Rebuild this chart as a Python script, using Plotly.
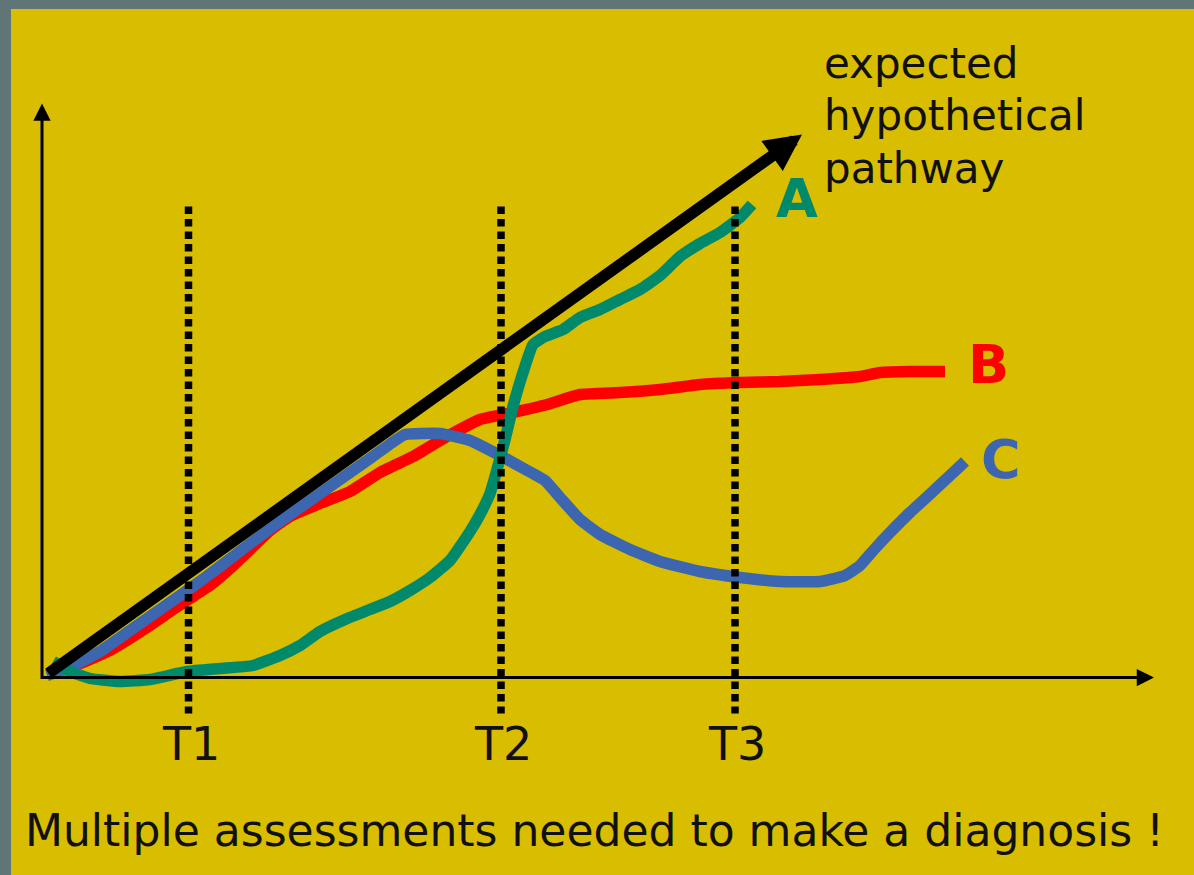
import plotly.graph_objects as go

# ---------------- data (x: time units, y: score units; origin = axes crossing) ----------------
time_labels = ["T1", "T2", "T3"]
time_x = [1.465, 4.59, 6.93]
time_line_top = 4.71
time_line_bottom = -0.36

# expected hypothetical pathway (straight arrow)
expected_x = [0.05, 7.60]
expected_y = [0.03, 5.43]

# patient A (green)
a_x = [0.11, 0.28, 0.48, 0.78, 1.08, 1.45, 1.78, 2.11, 2.38, 2.58, 2.78, 3.03, 3.28, 3.48, 3.68,
       3.88, 4.08, 4.18, 4.28, 4.38, 4.48, 4.55, 4.63, 4.71, 4.81, 4.91, 5.03, 5.21, 5.38, 5.58,
       5.78, 5.98, 6.18, 6.38, 6.58, 6.78, 6.98, 7.10]
a_y = [0.16, 0.06, -0.01, -0.04, -0.02, 0.06, 0.09, 0.12, 0.22, 0.32, 0.46, 0.58, 0.68, 0.76, 0.87,
       1.00, 1.17, 1.31, 1.46, 1.63, 1.84, 2.08, 2.38, 2.71, 3.05, 3.33, 3.41, 3.48, 3.60, 3.68,
       3.78, 3.88, 4.02, 4.21, 4.34, 4.45, 4.60, 4.73]

# patient B (red)
b_x = [0.08, 0.28, 0.48, 0.68, 0.88, 1.08, 1.28, 1.48, 1.68, 1.88, 2.08, 2.28, 2.48, 2.78, 3.08,
       3.38, 3.71, 4.05, 4.38, 4.71, 5.05, 5.38, 5.78, 6.18, 6.58, 6.98, 7.38, 7.78, 8.18, 8.38,
       8.68, 9.03]
b_y = [0.05, 0.10, 0.18, 0.27, 0.39, 0.52, 0.66, 0.79, 0.92, 1.09, 1.28, 1.47, 1.61, 1.74, 1.86,
       2.05, 2.21, 2.41, 2.58, 2.65, 2.73, 2.83, 2.85, 2.88, 2.93, 2.95, 2.96, 2.98, 3.01, 3.05,
       3.06, 3.06]

# patient C (blue)
c_x = [0.05, 0.28, 0.58, 0.88, 1.18, 1.48, 1.78, 2.08, 2.38, 2.68, 2.98, 3.28, 3.53, 3.63, 3.98,
       4.28, 4.58, 4.78, 5.03, 5.18, 5.38, 5.58, 5.88, 6.18, 6.58, 6.98, 7.38, 7.78, 8.03, 8.18,
       8.33, 8.48, 8.68, 8.93, 9.23]
c_y = [0.02, 0.10, 0.26, 0.47, 0.68, 0.89, 1.11, 1.34, 1.56, 1.77, 1.98, 2.19, 2.37, 2.43, 2.44,
       2.37, 2.22, 2.11, 1.97, 1.80, 1.58, 1.43, 1.28, 1.16, 1.06, 1.00, 0.96, 0.96, 1.02, 1.12,
       1.29, 1.45, 1.65, 1.88, 2.16]

series_labels = ["A", "B", "C"]

# ---------------- styling ----------------
YELLOW = "#d8bd00"
BORDER = "#607576"
GREEN = "#00896a"
RED = "#ff0000"
BLUE = "#3d66b0"
INK = "#111111"
FONT = "DejaVu Sans"

W, H = 1194, 875
ML, MT = 11, 9
PX = 100.0  # pixels per data unit
X0_PX, Y0_PX = 42, 677.5  # origin position in the picture
x_range = [(ML - X0_PX) / PX, (W - X0_PX) / PX]
y_range = [(Y0_PX - H) / PX, (Y0_PX - MT) / PX]

fig = go.Figure()

for xs, ys, col in [(b_x, b_y, RED), (c_x, c_y, BLUE), (a_x, a_y, GREEN)]:
    fig.add_trace(go.Scatter(x=xs, y=ys, mode="lines",
                             line=dict(color=col, width=11.5, shape="spline", smoothing=0.4),
                             hoverinfo="skip", showlegend=False))

for t in time_x:
    fig.add_trace(go.Scatter(x=[t, t], y=[time_line_top, time_line_bottom], mode="lines",
                             line=dict(color="black", width=7.5, dash="7.5px,5px"),
                             hoverinfo="skip", showlegend=False))

annotations = []
# axes arrows
annotations.append(dict(x=0, y=5.74, ax=0, ay=-0.03, xref="x", yref="y", axref="x", ayref="y",
                        text="", showarrow=True, arrowhead=2, arrowsize=1.15, arrowwidth=3,
                        arrowcolor="black", standoff=0, startstandoff=0))
annotations.append(dict(x=11.12, y=0, ax=-0.02, ay=0, xref="x", yref="y", axref="x", ayref="y",
                        text="", showarrow=True, arrowhead=2, arrowsize=1.15, arrowwidth=3,
                        arrowcolor="black", standoff=0, startstandoff=0))
# expected pathway arrow
annotations.append(dict(x=expected_x[1], y=expected_y[1], ax=expected_x[0], ay=expected_y[0],
                        xref="x", yref="y", axref="x", ayref="y", text="", showarrow=True,
                        arrowhead=2, arrowsize=0.64, arrowwidth=11.5, arrowcolor="black",
                        standoff=0, startstandoff=0))

# time labels
for lab, t in zip(time_labels, time_x):
    annotations.append(dict(x=t + 0.02, y=-0.665, xref="x", yref="y", text=lab, showarrow=False,
                            font=dict(family=FONT, size=46, color=INK),
                            xanchor="center", yanchor="middle"))

# series labels
for lab, xx, yy, col in zip(series_labels, [7.55, 9.46, 9.59], [4.79, 3.135, 2.18], [GREEN, RED, BLUE]):
    annotations.append(dict(x=xx, y=yy, xref="x", yref="y", text="<b>%s</b>" % lab, showarrow=False,
                            font=dict(family=FONT, size=54, color=col),
                            xanchor="center", yanchor="middle"))

# pathway caption
for line, yy in zip(["expected", "hypothetical", "pathway"], [6.14, 5.62, 5.09]):
    annotations.append(dict(x=7.80, y=yy, xref="x", yref="y", text=line, showarrow=False,
                            font=dict(family=FONT, size=42, color=INK),
                            xanchor="left", yanchor="middle"))

annotations.append(dict(x=5.52, y=-1.53, xref="x", yref="y",
                        text="Multiple assessments needed to make a diagnosis !", showarrow=False,
                        font=dict(family=FONT, size=44, color=INK),
                        xanchor="center", yanchor="middle"))

fig.update_layout(
    width=W, height=H, autosize=False,
    margin=dict(l=ML, r=0, t=MT, b=0, pad=0),
    paper_bgcolor=BORDER, plot_bgcolor=YELLOW,
    xaxis=dict(range=x_range, visible=False, fixedrange=True),
    yaxis=dict(range=y_range, visible=False, fixedrange=True),
    annotations=annotations,
    showlegend=False,
)

fig.write_html("out.html", config={"displayModeBar": False},
               post_script="document.body.style.margin='0';document.body.style.overflow='hidden';")
